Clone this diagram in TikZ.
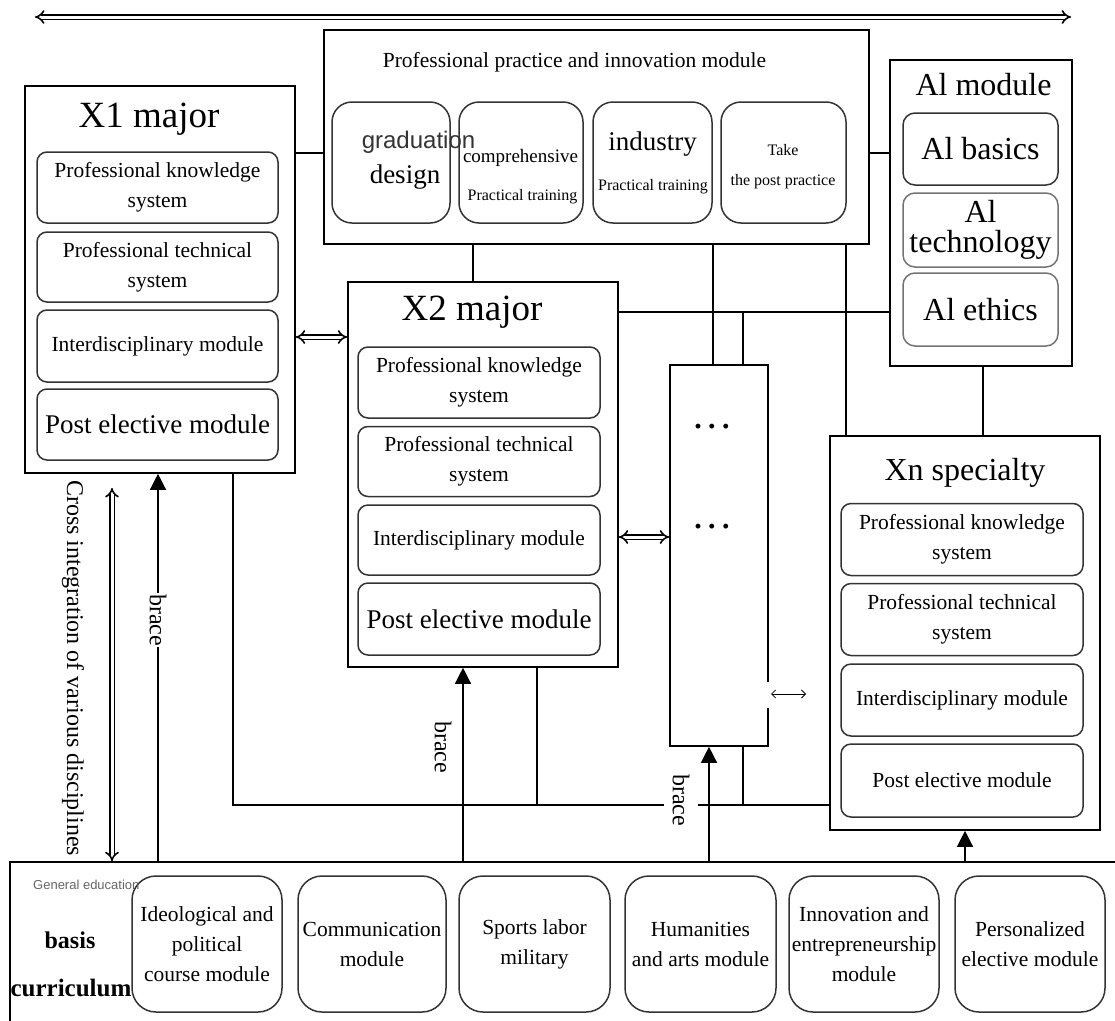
\documentclass[tikz,border=0pt]{standalone}
\usepackage{fontspec}
\setmainfont{Liberation Serif}
\newfontfamily\arialfont{Liberation Sans}
\usepackage{tikz}
\usetikzlibrary{arrows.meta}
\usetikzlibrary{positioning}

\newcommand{\setfs}[2]{\fontsize{#1}{#2}\selectfont}

\tikzset{
  frame/.style={draw, line width=1.6pt, inner sep=0pt},
  unit/.style={draw=black!80, line width=1.5pt, rounded corners=10pt, align=center, inner sep=2pt, font=\setfs{21.5}{30}},
  aiunit/.style={unit, rounded corners=12pt, minimum width=155pt, font=\setfs{32}{30}},
  pracunit/.style={draw=black!80, line width=1.5pt, rounded corners=20pt, minimum height=121pt},
  baseunit/.style={unit, rounded corners=24pt, minimum height=136pt},
  title/.style={anchor=base, inner sep=0pt},
  txt/.style={anchor=base, inner sep=0pt},
  link/.style={line width=1.6pt},
  twoway/.style={double, double distance=3pt, line width=1.6pt, {Implies}-{Implies}},
  support/.style={line width=1.4pt, -{Triangle[length=16pt,width=16pt]}},
  bracetxt/.style={rotate=-90, inner sep=1pt, font=\setfs{24}{24}},
}

\begin{document}
\begin{tikzpicture}[x=1pt, y=-1pt]
\useasboundingbox (0,0) rectangle (1115,1020);

% Marcos grandes
\node[frame, minimum width=545pt, minimum height=214pt] (prac) at (596.5,137) {};
\node[frame, minimum width=182pt, minimum height=306pt] (ai) at (981,213) {};
\node[frame, minimum width=270pt, minimum height=387pt] (xone) at (160,279.5) {};
\node[frame, minimum width=270pt, minimum height=385pt] (xtwo) at (483,474.5) {};
\node[frame, minimum width=98pt, minimum height=381pt] (mid) at (719,555.5) {};
\node[frame, minimum width=270pt, minimum height=394pt] (xn) at (965,633) {};
\node[frame, minimum width=1130pt, minimum height=188pt] (base) at (575,956) {};

% Titulos
\node[title, font=\setfs{21.5}{24}] (pracT) at (574.5,67) {Professional practice and innovation module};
\node[title, font=\setfs{32}{34}] (aiT) at (983.5,95) {Al module};
\node[title, font=\setfs{37}{40}] (xoneT) at (149,127) {X1 major};
\node[title, font=\setfs{37}{40}] (xtwoT) at (472,320) {X2 major};
\node[title, font=\setfs{32}{34}] (xnT) at (965,480) {Xn specialty};

% Practica
\node[pracunit, minimum width=118pt] (pracA) at (391,162.5) {};
\node[pracunit, minimum width=124pt] (pracB) at (521,162.5) {};
\node[pracunit, minimum width=119pt] (pracC) at (652.5,162.5) {};
\node[pracunit, minimum width=125pt] (pracD) at (783.5,162.5) {};
\node[txt, font=\arialfont\setfs{24}{24}, text=black!80] (gradA) at (418.5,148) {graduation};
\node[txt, font=\setfs{27}{27}] (gradB) at (405,183) {design};
\node[txt, font=\setfs{19}{19}] (compA) at (520.5,162) {comprehensive};
\node[txt, font=\setfs{16}{16}] (compB) at (522.5,200) {Practical training};
\node[txt, font=\setfs{27}{27}] (indA) at (652.5,150) {industry};
\node[txt, font=\setfs{16}{16}] (indB) at (653,190) {Practical training};
\node[txt, font=\setfs{16}{16}] (takeA) at (783,155) {Take};
\node[txt, font=\setfs{16}{16}] (takeB) at (783,185) {the post practice};

% Modulo AI
\node[aiunit, minimum height=72pt] (aiA) at (980.5,149) {Al basics};
\node[aiunit, draw=black!55, minimum height=74pt] (aiB) at (980.5,230) {Al\\technology};
\node[aiunit, draw=black!55, minimum height=73pt] (aiC) at (980.5,309.5) {Al ethics};

% X1
\node[unit, minimum width=241pt, minimum height=71pt] (xoneA) at (157.5,187.5) {Professional knowledge\\system};
\node[unit, minimum width=241pt, minimum height=70pt] (xoneB) at (157.5,267) {Professional technical\\system};
\node[unit, minimum width=241pt, minimum height=72pt] (xoneC) at (157.5,346) {Interdisciplinary module};
\node[unit, minimum width=241pt, minimum height=71pt, font=\setfs{27}{30}] (xoneD) at (157.5,424.5) {Post elective module};

% X2
\node[unit, minimum width=242pt, minimum height=71pt] (xtwoA) at (479,382.5) {Professional knowledge\\system};
\node[unit, minimum width=242pt, minimum height=70pt] (xtwoB) at (479,461.5) {Professional technical\\system};
\node[unit, minimum width=242pt, minimum height=70pt] (xtwoC) at (479,540) {Interdisciplinary module};
\node[unit, minimum width=242pt, minimum height=72pt, font=\setfs{27}{30}] (xtwoD) at (479,619) {Post elective module};

% Xn
\node[unit, minimum width=242pt, minimum height=72pt] (xnA) at (962,539.5) {Professional knowledge\\system};
\node[unit, minimum width=242pt, minimum height=72pt] (xnB) at (962,619.5) {Professional technical\\system};
\node[unit, minimum width=242pt, minimum height=72pt] (xnC) at (962,700) {Interdisciplinary module};
\node[unit, minimum width=242pt, minimum height=73pt] (xnD) at (962,780.5) {Post elective module};

% Caja de puntos
\node[font=\bfseries\setfs{30}{30}] (dotsA) at (712,430) {·\hspace{4pt}·\hspace{4pt}·};
\node[font=\bfseries\setfs{30}{30}] (dotsB) at (712,530) {·\hspace{4pt}·\hspace{4pt}·};
\fill[white] (765,682) rectangle (771,708);

% Base
\node[baseunit, minimum width=150pt] (baseA) at (207,944) {Ideological and\\political\\course module};
\node[baseunit, minimum width=148pt] (baseB) at (372,944) {Communication\\module};
\node[baseunit, minimum width=151pt] (baseC) at (534.5,944) {Sports labor\\military};
\node[baseunit, minimum width=151pt] (baseD) at (700.5,944) {Humanities\\and arts module};
\node[baseunit, minimum width=150pt] (baseE) at (864,944) {Innovation and\\entrepreneurship\\module};
\node[baseunit, minimum width=150pt] (baseF) at (1030,944) {Personalized\\elective module};
\node[txt, anchor=base west, font=\arialfont\setfs{13}{13}, text=black!60] (genT) at (33,889) {General education};
\node[font=\bfseries\setfs{24}{24}] (basisT) at (70,940) {basis};
\node[font=\bfseries\setfs{25}{25}] (curT) at (71,988) {curriculum};

% Conexiones
\coordinate (topL) at (35,17);
\coordinate (topR) at (1071,17);
\draw[twoway] (topL) -- (topR);

\draw[link] (xone.east |- 0,153) -- (prac.west |- 0,153);
\draw[link] (prac.east |- 0,153) -- (ai.west |- 0,153);
\draw[link] (prac.south -| 473,0) -- (xtwo.north -| 473,0);
\draw[link] (prac.south -| 713,0) -- (mid.north -| 713,0);
\draw[link] (prac.south -| 846,0) -- (xn.north -| 846,0);
\draw[link] (xtwo.east |- 0,312) -- (ai.west |- 0,312);
\coordinate (jointA) at (743,312);
\draw[link] (jointA) -- (mid.north -| jointA);
\draw[link] (ai.south -| 983,0) -- (xn.north -| 983,0);

\draw[twoway] (xone.east |- 0,337) -- (xtwo.west |- 0,337);
\draw[twoway] (xtwo.east |- 0,537) -- (mid.west |- 0,537);
\coordinate (thinL) at (771,694);
\coordinate (thinR) at (806,694);
\draw[line width=0.8pt, {Straight Barb[length=4pt]}-{Straight Barb[length=4pt]}] (thinL) -- (thinR);

% Bus inferior
\coordinate (busL) at (233,805);
\coordinate (busB) at (537,805);
\coordinate (busC) at (743,805);
\draw[link] (xone.south -| busL) -- (busL) -- (xn.west |- busL);
\draw[link] (xtwo.south -| busB) -- (busB);
\draw[link] (mid.south -| busC) -- (busC);

% Flechas de apoyo
\draw[support] (base.north -| 158,0) -- (xone.south -| 158,0);
\draw[support] (base.north -| 463,0) -- (xtwo.south -| 463,0);
\draw[support] (base.north -| 709,0) -- (mid.south -| 709,0);
\draw[support] (base.north -| 965,0) -- (xn.south -| 965,0);
\node[bracetxt, fill=white] (braceA) at (158,620) {brace};
\node[bracetxt] (braceB) at (443,747) {brace};
\node[bracetxt, fill=white, inner ysep=9pt] (braceC) at (681,800) {brace};

% Integracion
\coordinate (crossTop) at (112,488);
\draw[twoway] (crossTop) -- (base.north -| crossTop);
\node[rotate=-90, font=\setfs{24}{24}] (crossT) at (73,668) {Cross integration of various disciplines};

\end{tikzpicture}
\end{document}
